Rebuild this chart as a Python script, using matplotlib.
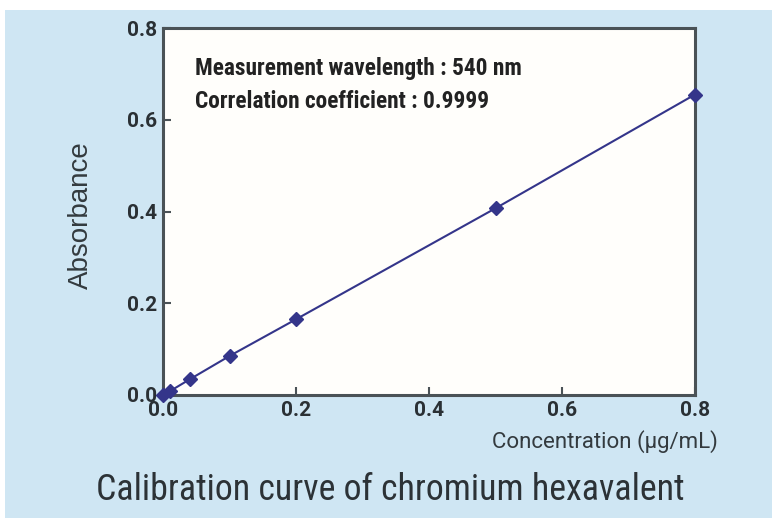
import matplotlib.pyplot as plt
from matplotlib import font_manager
from matplotlib.patches import Rectangle

# calibration data
concentration = [0.0, 0.01, 0.04, 0.1, 0.2, 0.5, 0.8]
absorbance = [0.0, 0.008, 0.034, 0.085, 0.165, 0.407, 0.655]
x_ticks = [0.0, 0.2, 0.4, 0.6, 0.8]
y_ticks = [0.0, 0.2, 0.4, 0.6, 0.8]

names = {f.name for f in font_manager.fontManager.ttflist}
narrow = 'Roboto Condensed' if 'Roboto Condensed' in names else 'DejaVu Sans'
plain = 'Roboto' if 'Roboto' in names else 'DejaVu Sans'

bg = '#cfe6f3'
ink = '#333a3e'
line_col = '#34358a'

fig = plt.figure(figsize=(7.72, 5.18), dpi=100)
fig.patch.set_facecolor('white')
fig.patches.append(Rectangle((5 / 772, 0), 1, 1 - 10 / 518, transform=fig.transFigure,
                             facecolor=bg, edgecolor='none', zorder=-1))

ax = fig.add_axes([163 / 772, 1 - 395 / 518, (695 - 163) / 772, (395 - 28) / 518])
ax.set_facecolor('#fffefb')
ax.plot(concentration, absorbance, color=line_col, linewidth=1.5, marker='D',
        markersize=7, markerfacecolor=line_col, markeredgecolor=line_col, clip_on=False, zorder=3)

ax.set_xlim(0, 0.8)
ax.set_ylim(0, 0.8)
ax.set_xticks(x_ticks)
ax.set_yticks(y_ticks)
ax.set_xticklabels([f'{v:.1f}' for v in x_ticks])
ax.set_yticklabels([f'{v:.1f}' for v in y_ticks])
ax.tick_params(direction='in', length=6, width=1.5, color='#4a5256', labelsize=15,
               labelcolor='#2a3034', pad=4)
for lab in ax.get_xticklabels() + ax.get_yticklabels():
    lab.set_family(plain)
    lab.set_fontweight('bold')
for s in ax.spines.values():
    s.set_color('#4a5256')
    s.set_linewidth(2.2)

ax.set_ylabel('Absorbance', fontsize=20, color=ink, family='Liberation Sans')
ax.yaxis.set_label_coords(-0.13, 0.49)
fig.text(718 / 772, 1 - 442 / 518, 'Concentration (μg/mL)', ha='right', va='center',
         fontsize=16, color=ink, family=plain)

ax.text(0.06, 0.891, 'Measurement wavelength : 540 nm', transform=ax.transAxes,
        fontsize=16.8, fontweight='bold', family=narrow, color='#222', va='center')
ax.text(0.06, 0.801, 'Correlation coefficient : 0.9999', transform=ax.transAxes,
        fontsize=16.8, fontweight='bold', family=narrow, color='#222', va='center')

fig.text(390 / 772, 1 - 490 / 518, 'Calibration curve of chromium hexavalent',
         ha='center', va='center', fontsize=25.8, color='#2c3236', family=narrow)

fig.savefig('out.png', dpi=100, facecolor=fig.get_facecolor())
